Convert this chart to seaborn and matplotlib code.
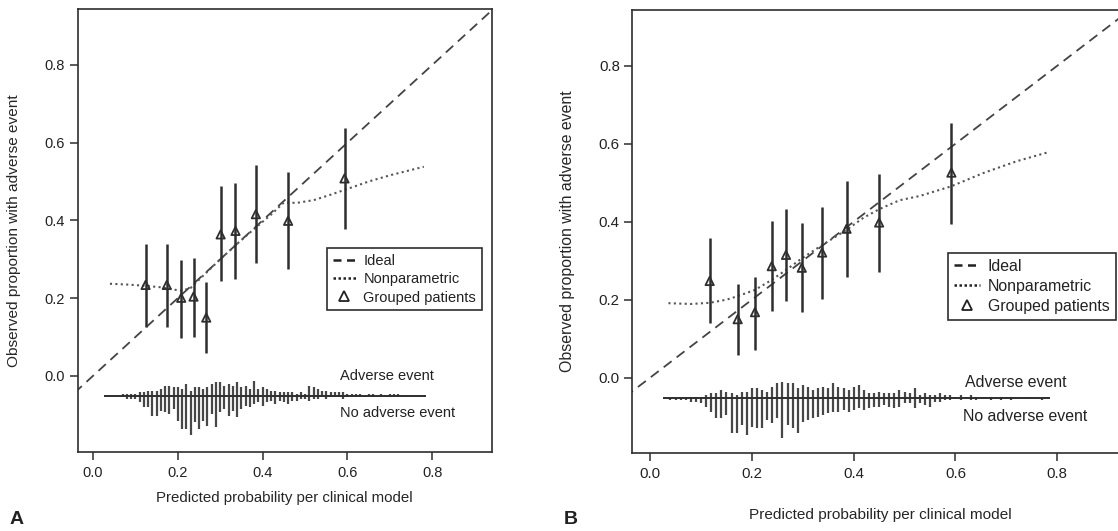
import matplotlib
matplotlib.use("Agg")
import matplotlib.pyplot as plt
import seaborn as sns
from matplotlib.lines import Line2D

# ---- Panel A: clinical model, development ----
a_pred = [0.124, 0.174, 0.208, 0.237, 0.267, 0.301, 0.336, 0.384, 0.460, 0.593]
a_obs = [0.234, 0.234, 0.201, 0.204, 0.150, 0.364, 0.373, 0.416, 0.399, 0.508]
a_lo = [0.125, 0.125, 0.097, 0.099, 0.060, 0.244, 0.249, 0.290, 0.274, 0.379]
a_hi = [0.339, 0.339, 0.299, 0.304, 0.241, 0.489, 0.496, 0.542, 0.524, 0.637]

a_np_x = [0.04, 0.08, 0.12, 0.16, 0.19, 0.21, 0.23, 0.26, 0.30, 0.34,
          0.38, 0.42, 0.45, 0.48, 0.52, 0.56, 0.60, 0.65, 0.70, 0.78]
a_np_y = [0.237, 0.235, 0.232, 0.228, 0.222, 0.219, 0.226, 0.258, 0.300, 0.340,
          0.378, 0.415, 0.446, 0.445, 0.452, 0.466, 0.481, 0.500, 0.516, 0.538]

# ---- Panel B: clinical model, validation ----
b_pred = [0.117, 0.172, 0.206, 0.239, 0.267, 0.298, 0.338, 0.386, 0.450, 0.592]
b_obs = [0.248, 0.150, 0.168, 0.286, 0.315, 0.282, 0.321, 0.382, 0.398, 0.526]
b_lo = [0.139, 0.058, 0.071, 0.172, 0.197, 0.169, 0.202, 0.257, 0.272, 0.394]
b_hi = [0.357, 0.239, 0.259, 0.403, 0.433, 0.396, 0.439, 0.504, 0.522, 0.652]

b_np_x = [0.036, 0.08, 0.117, 0.15, 0.172, 0.206, 0.238, 0.267, 0.298, 0.338,
          0.386, 0.419, 0.45, 0.49, 0.53, 0.592, 0.655, 0.72, 0.779]
b_np_y = [0.191, 0.189, 0.192, 0.200, 0.209, 0.225, 0.250, 0.276, 0.306, 0.340,
          0.379, 0.410, 0.432, 0.455, 0.466, 0.491, 0.525, 0.555, 0.577]

# ---- spike histograms of predicted probability (counts per bin) ----
spike_bins = [0.03, 0.04, 0.05, 0.06, 0.07, 0.08, 0.09, 0.10, 0.11, 0.12,
              0.13, 0.14, 0.15, 0.16, 0.17, 0.18, 0.19, 0.20, 0.21, 0.22,
              0.23, 0.24, 0.25, 0.26, 0.27, 0.28, 0.29, 0.30, 0.31, 0.32,
              0.33, 0.34, 0.35, 0.36, 0.37, 0.38, 0.39, 0.40, 0.41, 0.42,
              0.43, 0.44, 0.45, 0.46, 0.47, 0.48, 0.49, 0.50, 0.51, 0.52,
              0.53, 0.54, 0.55, 0.56, 0.57, 0.58, 0.59, 0.60, 0.61, 0.62,
              0.63, 0.64, 0.65, 0.66, 0.67, 0.68, 0.69, 0.70, 0.71, 0.72,
              0.73, 0.74, 0.75, 0.76, 0.77, 0.78]

a_event = [0, 0, 0, 0, 1, 1, 1, 1, 2, 2,
           3, 3, 3, 4, 6, 6, 5, 5, 4, 7,
           3, 5, 5, 4, 5, 7, 8, 8, 6, 7,
           6, 8, 5, 6, 4, 9, 4, 5, 4, 3,
           3, 2, 2, 2, 2, 1, 2, 1, 6, 5,
           4, 3, 3, 2, 2, 2, 2, 1, 1, 1,
           1, 0, 1, 1, 0, 1, 0, 1, 1, 1,
           0, 0, 0, 0, 0, 0]
a_noevent = [1, 0, 1, 1, 1, 2, 2, 2, 4, 7,
             7, 12, 12, 9, 10, 11, 8, 15, 20, 20,
             24, 16, 20, 15, 18, 11, 19, 10, 8, 12,
             9, 13, 8, 6, 7, 5, 4, 6, 4, 3,
             5, 3, 4, 5, 3, 3, 2, 2, 3, 2,
             2, 1, 2, 1, 1, 1, 2, 1, 0, 1,
             0, 1, 0, 1, 0, 0, 1, 0, 1, 0,
             1, 0, 0, 0, 0, 0]

b_event = [0, 0, 0, 0, 1, 1, 1, 1, 2, 3,
           3, 5, 4, 3, 2, 4, 4, 6, 6, 5,
           4, 7, 9, 10, 9, 9, 6, 8, 7, 5,
           6, 7, 6, 9, 7, 6, 5, 7, 8, 5,
           3, 3, 4, 3, 3, 3, 5, 4, 3, 6,
           2, 3, 2, 2, 3, 2, 2, 1, 2, 1,
           2, 1, 0, 1, 1, 0, 1, 1, 1, 0,
           0, 1, 0, 0, 1, 1]
b_noevent = [0, 1, 1, 1, 1, 2, 2, 3, 5, 8,
             12, 12, 10, 21, 21, 16, 22, 17, 18, 18,
             13, 15, 12, 24, 16, 18, 21, 14, 13, 12,
             11, 10, 9, 8, 8, 7, 8, 7, 6, 7,
             6, 5, 5, 4, 5, 6, 5, 3, 3, 6,
             3, 4, 5, 2, 2, 1, 1, 0, 1, 0,
             1, 1, 0, 0, 1, 0, 1, 0, 1, 0,
             0, 0, 0, 0, 1, 0]

ticks = [0.0, 0.2, 0.4, 0.6, 0.8]
xlabel = "Predicted probability per clinical model"
ylabel = "Observed proportion with adverse event"

sns.set_theme(style="ticks")
plt.rcParams["font.family"] = ["Liberation Sans", "DejaVu Sans"]
plt.rcParams["text.color"] = "#222222"

INK = "#2e2e2e"
SPIKE = "#474747"
SPIKE_UNIT = 0.00426  # data height of one count


def draw_panel(ax, pred, obs, lo, hi, np_x, np_y, ev, noev, base_y,
               xlim, ylim, fs, lfs, legend_anchor, ev_txt, noev_txt, xlab_y, ylab_x):
    ax.set_xlim(*xlim)
    ax.set_ylim(*ylim)

    # ideal diagonal
    sns.lineplot(x=[-0.1, 1.1], y=[-0.1, 1.1], ax=ax, color="#444444", lw=1.3,
                 linestyle=(0, (5.5, 3.5)), zorder=2)
    # nonparametric smoother
    sns.lineplot(x=np_x, y=np_y, ax=ax, color="#555555", lw=1.5, sort=False,
                 linestyle=(0, (1.0, 1.6)), zorder=2)
    # grouped patients with CIs
    ax.vlines(pred, lo, hi, color=INK, lw=1.8, zorder=3)
    sns.scatterplot(x=pred, y=obs, ax=ax, marker="^", s=36, facecolor="none",
                    edgecolor=INK, linewidth=1.3, zorder=4)

    # spike histogram
    ax.hlines(base_y, spike_bins[0] - 0.005, spike_bins[-1] + 0.005, color=INK, lw=1.4, zorder=3)
    ax.vlines(spike_bins, base_y, [base_y + c * SPIKE_UNIT for c in ev],
              color=SPIKE, lw=1.6, zorder=2)
    ax.vlines(spike_bins, [base_y - c * SPIKE_UNIT for c in noev], base_y,
              color=SPIKE, lw=1.6, zorder=2)
    ax.text(ev_txt[0], ev_txt[1], "Adverse event", fontsize=lfs, va="center", ha="left")
    ax.text(noev_txt[0], noev_txt[1], "No adverse event", fontsize=lfs, va="center", ha="left")

    ax.set_xticks(ticks)
    ax.set_yticks(ticks)
    ax.set_xticklabels([f"{t:.1f}" for t in ticks])
    ax.set_yticklabels([f"{t:.1f}" for t in ticks])
    ax.tick_params(axis="both", labelsize=fs, length=6, width=1.1, color=INK,
                   labelcolor="#222222", direction="out")
    ax.tick_params(axis="x", pad=4)
    ax.tick_params(axis="y", pad=3)
    for sp in ax.spines.values():
        sp.set_visible(True)
        sp.set_color(INK)
        sp.set_linewidth(1.2)

    ax.set_xlabel(xlabel, fontsize=fs + 0.3)
    ax.set_ylabel(ylabel, fontsize=fs + 0.6)
    ax.xaxis.set_label_coords(0.5, xlab_y)
    ax.yaxis.set_label_coords(ylab_x, 0.5)

    handles = [
        Line2D([], [], color="#222222", lw=1.8, linestyle=(0, (3.2, 2.2))),
        Line2D([], [], color="#222222", lw=1.8, linestyle=(0, (1.0, 1.0))),
        Line2D([], [], color="#222222", lw=0, marker="^", markersize=6.5,
               markerfacecolor="none", markeredgewidth=1.3),
    ]
    leg = ax.legend(handles, ["Ideal", "Nonparametric", "Grouped patients"],
                    loc="upper left", bbox_to_anchor=legend_anchor,
                    bbox_transform=ax.figure.transFigure, fontsize=lfs,
                    frameon=True, fancybox=False, framealpha=1, borderpad=0.4,
                    labelspacing=0.3, handlelength=1.6, handletextpad=0.5,
                    borderaxespad=0)
    leg.get_frame().set_edgecolor(INK)
    leg.get_frame().set_linewidth(1.2)


W, H = 1118, 531
fig = plt.figure(figsize=(W / 100, H / 100), dpi=100)
ax_a = fig.add_axes([77.7 / W, 1 - 451.7 / H, 414 / W, 442.4 / H])
ax_b = fig.add_axes([632.3 / W, 1 - 453.3 / H, 496.2 / W, 443.3 / H])

draw_panel(ax_a, a_pred, a_obs, a_lo, a_hi, a_np_x, a_np_y, a_event, a_noevent,
           -0.051, (-0.036, 0.94), (-0.195, 0.943), 10.5, 10.5,
           (327 / W, 1 - 248 / H), (0.583, 0.0), (0.583, -0.096), -0.089, -0.137)
draw_panel(ax_b, b_pred, b_obs, b_lo, b_hi, b_np_x, b_np_y, b_event, b_noevent,
           -0.053, (-0.035, 0.94), (-0.194, 0.943), 10.8, 11.4,
           (948 / W, 1 - 252.7 / H), (0.619, -0.012), (0.615, -0.100), -0.123, -0.1155)

fig.text(16.5 / W, 1 - 520 / H, "A", fontsize=14, fontweight="bold", ha="center", va="center")
fig.text(571 / W, 1 - 520 / H, "B", fontsize=14, fontweight="bold", ha="center", va="center")

fig.savefig("out.png", dpi=100)
